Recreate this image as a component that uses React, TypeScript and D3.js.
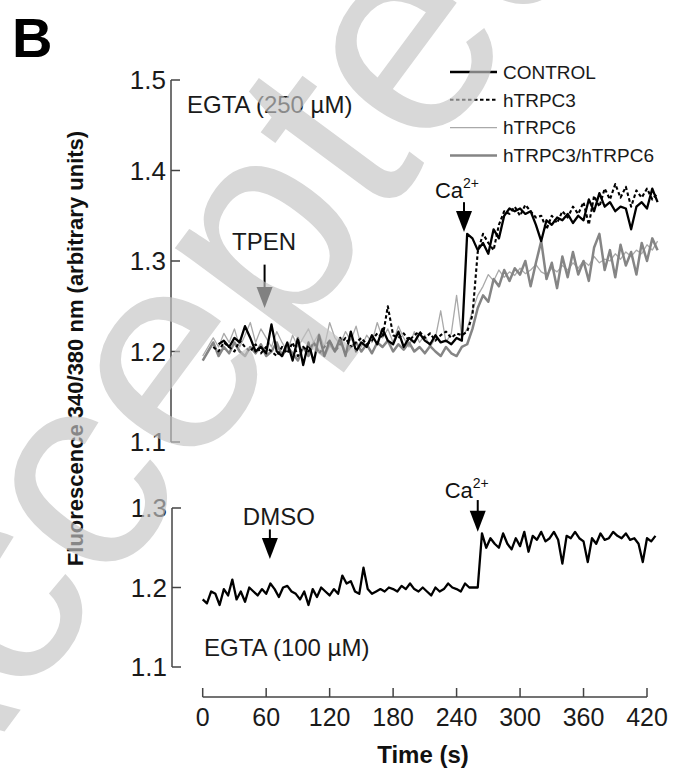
import React from "react";
import * as d3 from "d3";

// ---------- data ----------
const xTicks = [0, 60, 120, 180, 240, 300, 360, 420];
const topTicks = [1.1, 1.2, 1.3, 1.4, 1.5];
const bottomTicks = [1.1, 1.2, 1.3];

const topStep = 5; // seconds between samples
const controlStart = 15;
const controlValues = [
  1.208, 1.212, 1.205, 1.215, 1.21, 1.228, 1.215, 1.2, 1.205, 1.198, 1.23, 1.2, 1.195, 1.21, 1.19, 1.215,
  1.185, 1.21, 1.188, 1.218, 1.195, 1.212, 1.2, 1.215, 1.195, 1.222, 1.2, 1.21, 1.205, 1.218, 1.208, 1.225,
  1.212, 1.208, 1.222, 1.205, 1.215, 1.21, 1.22, 1.212, 1.208, 1.218, 1.21, 1.212, 1.208, 1.215, 1.212,
  1.33, 1.325, 1.312, 1.32, 1.308, 1.335, 1.325, 1.35, 1.358, 1.355, 1.358, 1.352, 1.355, 1.34, 1.322,
  1.345, 1.34, 1.348, 1.345, 1.352, 1.342, 1.35, 1.345, 1.368, 1.355, 1.375, 1.36, 1.365, 1.355, 1.36,
  1.358, 1.335, 1.36, 1.365, 1.358, 1.38, 1.365,
];
const trpc3Start = 10;
const trpc3Values = [
  1.205, 1.2, 1.21, 1.205, 1.2, 1.212, 1.205, 1.2, 1.208, 1.198, 1.205, 1.2, 1.195, 1.205, 1.198, 1.21,
  1.195, 1.205, 1.2, 1.21, 1.198, 1.205, 1.212, 1.2, 1.208, 1.215, 1.205, 1.21, 1.215, 1.208, 1.212, 1.22,
  1.215, 1.25, 1.218, 1.215, 1.22, 1.212, 1.218, 1.222, 1.215, 1.22, 1.212, 1.218, 1.222, 1.215, 1.22,
  1.218, 1.222, 1.24, 1.31, 1.33, 1.32, 1.312, 1.34, 1.355, 1.352, 1.36, 1.35, 1.362, 1.355, 1.348, 1.35,
  1.335, 1.35, 1.342, 1.355, 1.348, 1.36, 1.352, 1.365, 1.34, 1.372, 1.36, 1.38, 1.368, 1.385, 1.37, 1.382,
  1.36, 1.378, 1.37, 1.38, 1.368, 1.375,
];
const trpc6Start = 0;
const trpc6Values = [
  1.195, 1.205, 1.215, 1.205, 1.22, 1.21, 1.225, 1.205, 1.218, 1.232, 1.21, 1.225, 1.215, 1.205, 1.222,
  1.21, 1.2, 1.218, 1.205, 1.215, 1.225, 1.21, 1.22, 1.205, 1.232, 1.215, 1.208, 1.222, 1.212, 1.228,
  1.205, 1.218, 1.21, 1.232, 1.215, 1.225, 1.21, 1.228, 1.215, 1.205, 1.222, 1.21, 1.218, 1.205, 1.215,
  1.245, 1.21, 1.22, 1.262, 1.215, 1.225, 1.245, 1.262, 1.272, 1.285, 1.278, 1.29, 1.282, 1.288, 1.284,
  1.292, 1.286, 1.29, 1.296, 1.288, 1.285, 1.292, 1.288, 1.295, 1.29, 1.298, 1.292, 1.3, 1.295, 1.305,
  1.298, 1.302, 1.3, 1.308, 1.302, 1.31, 1.305, 1.312, 1.308, 1.318, 1.312, 1.322,
];
const bothStart = 0;
const bothValues = [
  1.19, 1.2, 1.21, 1.195, 1.205, 1.198, 1.21, 1.2, 1.195, 1.205, 1.198, 1.208, 1.195, 1.2, 1.21, 1.195,
  1.205, 1.198, 1.19, 1.205, 1.195, 1.21, 1.2, 1.195, 1.208, 1.2, 1.212, 1.198, 1.205, 1.21, 1.2, 1.208,
  1.198, 1.21, 1.205, 1.212, 1.2, 1.208, 1.202, 1.21, 1.2, 1.205, 1.198, 1.206, 1.2, 1.195, 1.205, 1.198,
  1.195, 1.205, 1.208, 1.225, 1.248, 1.262, 1.255, 1.28, 1.272, 1.29, 1.278, 1.292, 1.285, 1.3, 1.272,
  1.298, 1.322, 1.28, 1.298, 1.27, 1.305, 1.282, 1.31, 1.285, 1.3, 1.278, 1.315, 1.33, 1.29, 1.312, 1.282,
  1.318, 1.295, 1.31, 1.285, 1.32, 1.3, 1.325, 1.312,
];

const bottomStep = 4;
const bottomStart = 0;
const bottomValues = [
  1.185, 1.18, 1.195, 1.192, 1.178, 1.198, 1.19, 1.21, 1.185, 1.195, 1.182, 1.2, 1.195, 1.19, 1.198, 1.192,
  1.205, 1.198, 1.188, 1.2, 1.202, 1.195, 1.192, 1.185, 1.195, 1.178, 1.198, 1.188, 1.2, 1.195, 1.19, 1.198,
  1.192, 1.215, 1.205, 1.208, 1.195, 1.192, 1.225, 1.198, 1.192, 1.195, 1.198, 1.195, 1.2, 1.198, 1.195,
  1.202, 1.198, 1.205, 1.198, 1.195, 1.2, 1.195, 1.19, 1.2, 1.195, 1.198, 1.205, 1.2, 1.198, 1.195, 1.205,
  1.2, 1.2, 1.2, 1.268, 1.25, 1.262, 1.255, 1.25, 1.268, 1.255, 1.248, 1.262, 1.252, 1.27, 1.245, 1.265,
  1.26, 1.27, 1.258, 1.262, 1.27, 1.26, 1.23, 1.265, 1.262, 1.27, 1.262, 1.258, 1.232, 1.262, 1.255, 1.268,
  1.26, 1.262, 1.27, 1.265, 1.262, 1.268, 1.26, 1.262, 1.255, 1.232, 1.262, 1.258, 1.265,
];

const legendLabels = ["CONTROL", "hTRPC3", "hTRPC6", "hTRPC3/hTRPC6"];
const watermarkText = "Accepted Manuscript";

// ---------- layout ----------
const W = 674;
const H = 771;
const FONT = "'Liberation Sans', Arial, Helvetica, sans-serif";

const x = d3.scaleLinear().domain([0, 420]).range([202.7, 647]);
const yTop = d3.scaleLinear().domain([1.1, 1.5]).range([442, 80]);
const yBot = d3.scaleLinear().domain([1.1, 1.3]).range([667, 508]);

type Pt = { t: number; v: number };
const toPts = (start: number, step: number, vals: number[]): Pt[] =>
  vals.map((v, i) => ({ t: start + i * step, v }));

const styles = [
  { stroke: "#000", width: 2.3, dash: "" },
  { stroke: "#000", width: 2.1, dash: "3.5 2.5" },
  { stroke: "#a9a9a9", width: 1.3, dash: "" },
  { stroke: "#858585", width: 2.5, dash: "" },
];

const topSeries = [
  toPts(controlStart, topStep, controlValues),
  toPts(trpc3Start, topStep, trpc3Values),
  toPts(trpc6Start, topStep, trpc6Values),
  toPts(bothStart, topStep, bothValues),
];
const drawOrder = [2, 3, 1, 0];

function Arrow({ cx, top, tip }: { cx: number; top: number; tip: number }) {
  const headH = 21;
  const headW = 8;
  return (
    <g>
      <line x1={cx} x2={cx} y1={top} y2={tip - headH + 2} stroke="#000" strokeWidth={2} />
      <path d={`M${cx - headW},${tip - headH}L${cx + headW},${tip - headH}L${cx},${tip}Z`} fill="#000" />
    </g>
  );
}

function CaLabel({ xEnd, baseline }: { xEnd: number; baseline: number }) {
  return (
    <text x={xEnd} y={baseline} fontSize={22} fontFamily={FONT} fill="#111" textAnchor="end">
      Ca
      <tspan fontSize={14} dy={-10}>
        2+
      </tspan>
    </text>
  );
}

export default function App() {
  const lineTop = d3
    .line<Pt>()
    .x((d) => x(d.t))
    .y((d) => yTop(d.v));
  const lineBot = d3
    .line<Pt>()
    .x((d) => x(d.t))
    .y((d) => yBot(d.v));
  const bottomPts = toPts(bottomStart, bottomStep, bottomValues);
  const axisColor = "#444";

  return (
    <svg width={W} height={H} style={{ display: "block", position: "absolute", left: 0, top: 0, background: "#fff" }}>
      <rect width={W} height={H} fill="#fff" />
      {/* panel letter */}
      <text x={12} y={57} fontSize={56} fontWeight="bold" fontFamily={FONT} fill="#000">
        B
      </text>

      {/* y-axis title */}
      <text
        transform={`translate(83,348.5) rotate(-90)`}
        textAnchor="middle"
        fontSize={22}
        fontWeight="bold"
        fontFamily={FONT}
        fill="#111"
      >
        Fluorescence 340/380 nm (arbitrary units)
      </text>

      {/* top y axis */}
      <line x1={171} x2={171} y1={yTop(1.5)} y2={yTop(1.1)} stroke={axisColor} strokeWidth={1.5} />
      {topTicks.map((t) => (
        <g key={"tt" + t}>
          <line x1={171} x2={180} y1={yTop(t)} y2={yTop(t)} stroke={axisColor} strokeWidth={1.5} />
          <text x={166} y={yTop(t)} dy="0.36em" textAnchor="end" fontSize={26} fontFamily={FONT} fill="#1a1a1a">
            {t.toFixed(1)}
          </text>
        </g>
      ))}

      {/* bottom y axis */}
      <line x1={172} x2={172} y1={yBot(1.3)} y2={yBot(1.1)} stroke={axisColor} strokeWidth={1.5} />
      {bottomTicks.map((t) => (
        <g key={"bt" + t}>
          <line x1={172} x2={181} y1={yBot(t)} y2={yBot(t)} stroke={axisColor} strokeWidth={1.5} />
          <text x={167} y={yBot(t)} dy="0.36em" textAnchor="end" fontSize={26} fontFamily={FONT} fill="#1a1a1a">
            {t.toFixed(1)}
          </text>
        </g>
      ))}

      {/* x axis */}
      <line x1={x(0)} x2={x(420)} y1={697} y2={697} stroke={axisColor} strokeWidth={1.5} />
      {xTicks.map((t) => (
        <g key={"xt" + t}>
          <line x1={x(t)} x2={x(t)} y1={697} y2={688} stroke={axisColor} strokeWidth={1.5} />
          <text x={x(t)} y={726} textAnchor="middle" fontSize={25} fontFamily={FONT} fill="#1a1a1a">
            {t}
          </text>
        </g>
      ))}
      <text x={423} y={763} textAnchor="middle" fontSize={24} fontWeight="bold" fontFamily={FONT} fill="#111">
        Time (s)
      </text>

      {/* top traces */}
      {drawOrder.map((i) => (
        <path
          key={"s" + i}
          d={lineTop(topSeries[i]) || ""}
          fill="none"
          stroke={styles[i].stroke}
          strokeWidth={styles[i].width}
          strokeDasharray={styles[i].dash || undefined}
          strokeLinejoin="round"
        />
      ))}

      {/* bottom trace */}
      <path d={lineBot(bottomPts) || ""} fill="none" stroke="#000" strokeWidth={2.3} strokeLinejoin="round" />

      {/* legend */}
      {legendLabels.map((lab, i) => {
        const ly = 72 + i * 27.8;
        return (
          <g key={lab}>
            <line
              x1={450}
              x2={497}
              y1={ly}
              y2={ly}
              stroke={styles[i].stroke}
              strokeWidth={styles[i].width}
              strokeDasharray={styles[i].dash || undefined}
            />
            <text x={503} y={ly} dy="0.36em" fontSize={19} fontFamily={FONT} fill="#1a1a1a">
              {lab}
            </text>
          </g>
        );
      })}

      {/* annotations, top panel */}
      <text x={187} y={113} fontSize={24} fontFamily={FONT} fill="#1a1a1a">
        EGTA (250 µM)
      </text>
      <text x={x(58)} y={yTop(1.312)} textAnchor="middle" fontSize={24} fontFamily={FONT} fill="#1a1a1a">
        TPEN
      </text>
      <Arrow cx={x(58.5)} top={yTop(1.296)} tip={yTop(1.248)} />
      <CaLabel xEnd={x(247) + 15} baseline={yTop(1.37)} />
      <Arrow cx={x(247)} top={yTop(1.365)} tip={yTop(1.332)} />

      {/* annotations, bottom panel */}
      <text x={x(72)} y={yBot(1.278)} textAnchor="middle" fontSize={24} fontFamily={FONT} fill="#1a1a1a">
        DMSO
      </text>
      <Arrow cx={x(63.5)} top={yBot(1.273)} tip={yBot(1.236)} />
      <CaLabel xEnd={x(260) + 11} baseline={yBot(1.312)} />
      <Arrow cx={x(260)} top={yBot(1.31)} tip={yBot(1.27)} />
      <text x={204} y={656} fontSize={24} fontFamily={FONT} fill="#1a1a1a">
        EGTA (100 µM)
      </text>

      {/* watermark */}
      <text
        transform="translate(-92,862) rotate(-53.5)"
        fontSize={285}
        fontFamily={FONT}
        fill="#c4c4c4"
        opacity={0.66}
      >
        {watermarkText}
      </text>
    </svg>
  );
}
